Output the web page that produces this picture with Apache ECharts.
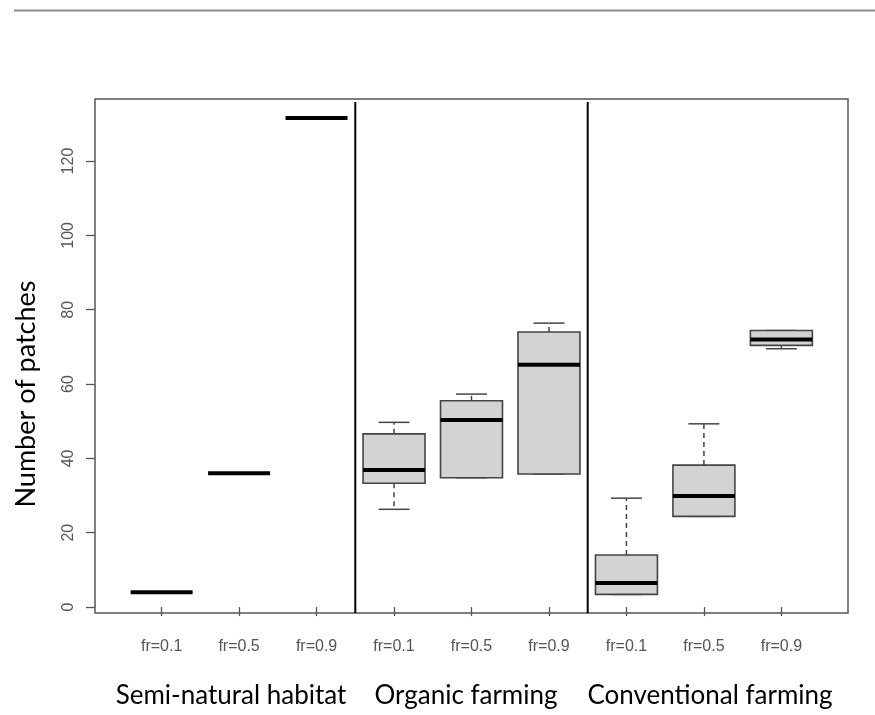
<!DOCTYPE html>
<html>
<head>
<meta charset="utf-8">
<script src="https://cdn.jsdelivr.net/npm/echarts@6/dist/echarts.min.js"></script>
<style>
html,body{margin:0;padding:0;background:#fff;}
#chart{width:875px;height:715px;}
</style>
</head>
<body>
<div id="chart"></div>
<script>
// ---- data ----
const groupNames = ['Semi-natural habitat', 'Organic farming', 'Conventional farming'];
const tickLabels = ['fr=0.1', 'fr=0.5', 'fr=0.9', 'fr=0.1', 'fr=0.5', 'fr=0.9', 'fr=0.1', 'fr=0.5', 'fr=0.9'];
const lowWhisker  = [4.0, 36.0, 131.6, 26.3, 34.8, 35.8,  3.4, 24.4, 69.5];
const lowerQuart  = [4.0, 36.0, 131.6, 33.3, 34.8, 35.8,  3.4, 24.4, 70.4];
const medians     = [4.0, 36.0, 131.6, 36.9, 50.3, 65.2,  6.5, 29.9, 72.0];
const upperQuart  = [4.0, 36.0, 131.6, 46.6, 55.5, 74.0, 14.0, 38.2, 74.4];
const highWhisker = [4.0, 36.0, 131.6, 49.7, 57.3, 76.4, 29.3, 49.3, 74.4];
const yTicks = [0, 20, 40, 60, 80, 100, 120];
const separators = [3.5, 6.5];

// ---- build ----
const positions = tickLabels.map((_, i) => i + 1);
const boxData = positions.map((p, i) => [p, lowWhisker[i], lowerQuart[i], medians[i], upperQuart[i], highWhisker[i]]);
const sepData = separators.map(s => [s]);

const chart = echarts.init(document.getElementById('chart'), null, {renderer: 'canvas'});

function renderBox(params, api) {
  const x = api.value(0);
  const lo = api.value(1), q1 = api.value(2), med = api.value(3), q3 = api.value(4), hi = api.value(5);
  const halfBox = api.size([0.4, 0])[0];
  const halfCap = api.size([0.2, 0])[0];
  const pLo = api.coord([x, lo]);
  const pQ1 = api.coord([x, q1]);
  const pMed = api.coord([x, med]);
  const pQ3 = api.coord([x, q3]);
  const pHi = api.coord([x, hi]);
  const cx = pMed[0];
  const children = [];
  const wStyle = {stroke: '#444', lineWidth: 1.5, lineDash: [5, 4]};
  const capStyle = {stroke: '#444', lineWidth: 1.5};
  if (hi > q3) {
    children.push({type: 'line', shape: {x1: cx, y1: pQ3[1], x2: cx, y2: pHi[1]}, style: wStyle});
  }
  if (lo < q1) {
    children.push({type: 'line', shape: {x1: cx, y1: pQ1[1], x2: cx, y2: pLo[1]}, style: wStyle});
  }
  if (q3 > q1) {
    children.push({type: 'line', shape: {x1: cx - halfCap, y1: pHi[1], x2: cx + halfCap, y2: pHi[1]}, style: capStyle});
    children.push({type: 'line', shape: {x1: cx - halfCap, y1: pLo[1], x2: cx + halfCap, y2: pLo[1]}, style: capStyle});
    children.push({
      type: 'rect',
      shape: {x: cx - halfBox, y: pQ3[1], width: halfBox * 2, height: pQ1[1] - pQ3[1]},
      style: {fill: '#d3d3d3', stroke: '#444', lineWidth: 1.6}
    });
  }
  children.push({type: 'line', shape: {x1: cx - halfBox, y1: pMed[1], x2: cx + halfBox, y2: pMed[1]},
    style: {stroke: '#000', lineWidth: 4}});
  return {type: 'group', children: children};
}

function renderSep(params, api) {
  const cs = params.coordSys;
  const px = api.coord([api.value(0), 0])[0];
  return {type: 'line', shape: {x1: px, y1: cs.y + 3, x2: px, y2: cs.y + cs.height}, style: {stroke: '#000', lineWidth: 2}};
}

const option = {
  backgroundColor: '#fff',
  animation: false,
  grid: {left: 95, right: 27, top: 99, bottom: 102, show: true, borderColor: '#555', borderWidth: 1.5, backgroundColor: 'transparent'},
  xAxis: {
    type: 'value', min: 0.14, max: 9.86,
    splitLine: {show: false},
    axisLine: {show: false},
    axisTick: {show: true, customValues: positions, length: 9, lineStyle: {color: '#555', width: 1.3}},
    axisLabel: {customValues: positions, margin: 26, color: '#555', fontSize: 16, fontFamily: 'Liberation Sans',
      formatter: v => tickLabels[Math.round(v) - 1] || ''}
  },
  yAxis: {
    type: 'value', min: -1.6, max: 136.7,
    splitLine: {show: false},
    axisLine: {show: false},
    axisTick: {show: true, customValues: yTicks, length: 9, lineStyle: {color: '#555', width: 1.3}},
    axisLabel: {customValues: yTicks, rotate: 90, margin: 18, color: '#555', fontSize: 16, fontFamily: 'Liberation Sans'}
  },
  series: [
    {type: 'custom', renderItem: renderSep, data: sepData, encode: {x: 0}, silent: true},
    {type: 'custom', renderItem: renderBox, data: boxData, encode: {x: 0, y: [1, 2, 3, 4, 5]}, silent: true}
  ],
  graphic: [
    {type: 'line', shape: {x1: 14, y1: 10.5, x2: 875, y2: 10.5}, style: {stroke: '#8c8c8c', lineWidth: 2}},
    {type: 'text', x: 26, y: 394, rotation: Math.PI / 2,
      style: {text: 'Number of patches', font: '27px Lato', fill: '#000', textAlign: 'center', textVerticalAlign: 'middle'}},
    {type: 'text', x: 231, y: 696,
      style: {text: groupNames[0], font: '26px Lato', fill: '#000', textAlign: 'center', textVerticalAlign: 'middle'}},
    {type: 'text', x: 466, y: 696,
      style: {text: groupNames[1], font: '26px Lato', fill: '#000', textAlign: 'center', textVerticalAlign: 'middle'}},
    {type: 'text', x: 710, y: 696,
      style: {text: groupNames[2], font: '26px Lato', fill: '#000', textAlign: 'center', textVerticalAlign: 'middle'}}
  ]
};
chart.setOption(option);
</script>
</body>
</html>
